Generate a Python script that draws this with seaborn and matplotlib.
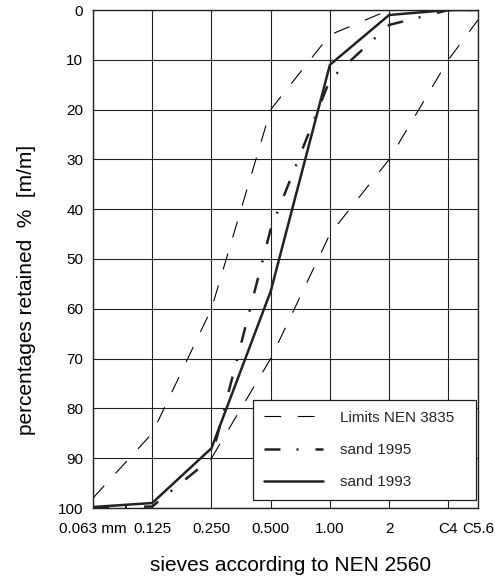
import numpy as np
import pandas as pd
import matplotlib
matplotlib.use("Agg")
import matplotlib.pyplot as plt
import seaborn as sns

# ---- data -------------------------------------------------------------
sieves = ["0.063 mm", "0.125", "0.250", "0.500", "1.00", "2", "C4", "C5.6"]
sieve_pos = [0, 1, 2, 3, 4, 5, 6, 6.5]          # x scale of the sieve axis
limit_lower = [98, 85, 60, 20, 5, 0, 0, 0]
limit_upper = [np.nan, np.nan, 90, 70, 45, 30, 10, 2]
sand_1995 = [100, 99.7, 90, 44, 14, 3, 0, 0]
sand_1993 = [99.8, 99, 88, 56.5, 11, 1, 0, 0]
y_ticks = list(range(0, 101, 10))

df = pd.DataFrame({
    "pos": sieve_pos,
    "lower": limit_lower,
    "upper": limit_upper,
    "s1995": sand_1995,
    "s1993": sand_1993,
})

# ---- style ------------------------------------------------------------
sns.set_theme(style="white")
plt.rcParams["font.family"] = ["Liberation Sans", "DejaVu Sans"]

fig = plt.figure(figsize=(4.95, 5.78), dpi=100)
ax = fig.add_axes([93 / 495, 1 - 508 / 578, 385 / 495, 498 / 578])

lim_style = dict(color="black", lw=0.8, linestyle=(0, (15, 15)))
sns.lineplot(data=df, x="pos", y="lower", ax=ax, label="Limits NEN 3835", **lim_style)
sns.lineplot(data=df.dropna(subset=["upper"]), x="pos", y="upper", ax=ax, **lim_style)
sns.lineplot(data=df, x="pos", y="s1995", ax=ax, label="sand 1995",
             color="#222222", lw=1.8, linestyle=(0, (6.4, 6.4, 0.8, 6.8)))
sns.lineplot(data=df, x="pos", y="s1993", ax=ax, label="sand 1993",
             color="#222222", lw=1.8, linestyle="-")

ax.set_xlim(0, 6.5)
ax.set_ylim(100, 0)
ax.set_xticks(sieve_pos)
ax.set_xticklabels(sieves)
ax.set_yticks(y_ticks)
ax.set_yticklabels([str(v) for v in y_ticks])

ax.grid(True, color="#222222", lw=0.8)
ax.set_axisbelow(True)
for s in ax.spines.values():
    s.set_color("#222222")
    s.set_linewidth(1.0)

ax.tick_params(axis="both", direction="in", length=4, width=0.8, color="#222222",
               labelsize=11, labelcolor="black")
ax.tick_params(axis="y", pad=7)
ax.tick_params(axis="x", pad=10)

ax.set_xlabel("sieves according to NEN 2560", fontsize=15, color="black")
ax.set_ylabel("percentages retained  %  [m/m]", fontsize=15, color="black")
ax.xaxis.set_label_coords(0.512, -0.096)
ax.yaxis.set_label_coords(-0.147, 0.438)

leg = ax.legend(loc="lower left", bbox_to_anchor=(0.416, 0.016, 0.579, 0.205),
                mode="expand", frameon=True, fancybox=False, shadow=False,
                framealpha=1, edgecolor="#222222", fontsize=11,
                handlelength=3.9, handletextpad=1.1, labelspacing=1.2,
                borderpad=0.7, borderaxespad=0)
leg.get_frame().set_linewidth(0.9)

fig.savefig("out.png", dpi=100)
